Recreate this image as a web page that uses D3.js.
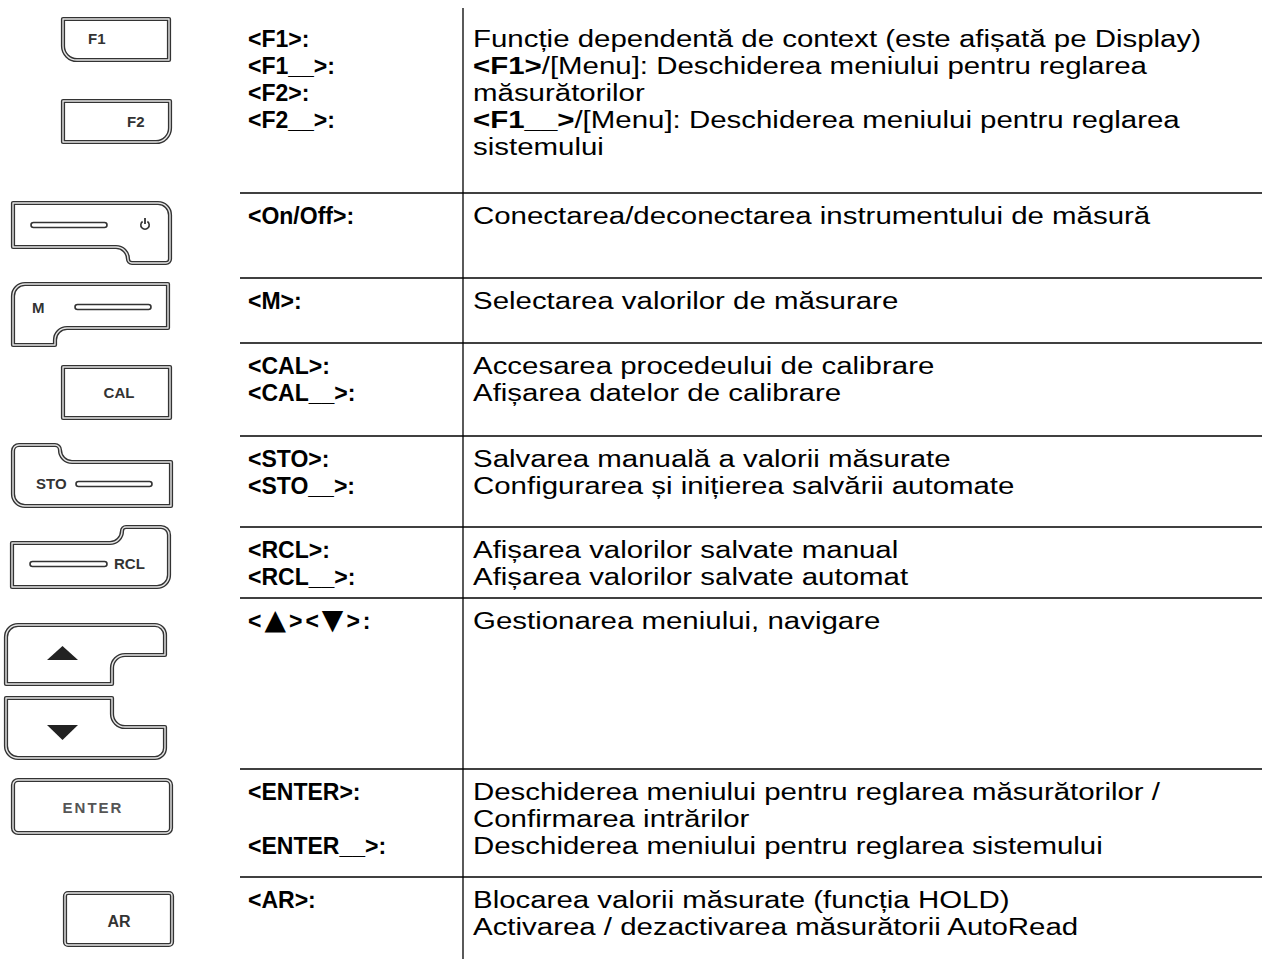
<!DOCTYPE html>
<html><head><meta charset="utf-8">
<script src="https://cdn.jsdelivr.net/npm/d3@7"></script>
<style>
html,body{margin:0;padding:0;background:#fff;}
svg{display:block;}
</style>
</head><body>
<svg id="chart" width="1262" height="959"></svg>
<script>
// ---------- data ----------
const keyNames = ["F1 / F2", "On/Off", "M", "CAL", "STO", "RCL", "Up / Down", "ENTER", "AR"];
const keyLabels = [
  ["<F1>:", "<F1__>:", "<F2>:", "<F2__>:"],
  ["<On/Off>:"],
  ["<M>:"],
  ["<CAL>:", "<CAL__>:"],
  ["<STO>:", "<STO__>:"],
  ["<RCL>:", "<RCL__>:"],
  ["<▲><▼>:"],
  ["<ENTER>:", "", "<ENTER__>:"],
  ["<AR>:"]
];
// bold parts marked with ** **
const descriptions = [
  ["Funcție dependentă de context (este afișată pe Display)",
   "**<F1>**/[Menu]: Deschiderea meniului pentru reglarea",
   "măsurătorilor",
   "**<F1__>**/[Menu]: Deschiderea meniului pentru reglarea",
   "sistemului"],
  ["Conectarea/deconectarea instrumentului de măsură"],
  ["Selectarea valorilor de măsurare"],
  ["Accesarea procedeului de calibrare", "Afișarea datelor de calibrare"],
  ["Salvarea manuală a valorii măsurate", "Configurarea și inițierea salvării automate"],
  ["Afișarea valorilor salvate manual", "Afișarea valorilor salvate automat"],
  ["Gestionarea meniului, navigare"],
  ["Deschiderea meniului pentru reglarea măsurătorilor /", "Confirmarea intrărilor", "Deschiderea meniului pentru reglarea sistemului"],
  ["Blocarea valorii măsurate (funcția HOLD)", "Activarea / dezactivarea măsurătorii AutoRead"]
];
const buttonTexts = ["F1", "F2", "", "M", "CAL", "STO", "RCL", "ENTER", "AR"];

// ---------- layout ----------
const W = 1262, H = 959;
const rowTops = [16, 193, 278, 343, 436, 527, 598, 769, 877];
const lineYs = rowTops.slice(1);
const colX = 463, tableLeft = 240;
const leftTextX = 248, rightTextX = 473;
const FSL = 23, FSR = 23, stretchR = 1.28, pitch = 27, firstOffset = 31;

const svg = d3.select("#chart");
const font = "'Liberation Sans', Arial, Helvetica, sans-serif";

const rowScale = d3.scaleOrdinal().domain(d3.range(keyNames.length)).range(rowTops);

// grid lines
svg.append("line").attr("x1", colX).attr("x2", colX).attr("y1", 8).attr("y2", H)
  .attr("stroke", "#000").attr("stroke-width", 1.3);
svg.selectAll("line.h").data(lineYs).join("line").attr("class", "h")
  .attr("x1", tableLeft).attr("x2", W).attr("y1", d => d).attr("y2", d => d)
  .attr("stroke", "#000").attr("stroke-width", 1.3);

function addRich(sel, str, baseBold) {
  const parts = str.split(/(\*\*[^*]+\*\*)/).filter(s => s.length);
  parts.forEach(p => {
    let bold = baseBold;
    let t = p;
    if (p.startsWith("**")) { bold = true; t = p.slice(2, -2); }
    sel.append("tspan").attr("font-weight", bold ? "bold" : "normal").text(t);
  });
}
function addLabel(sel, str) {
  const parts = str.split(/([▲▼])/).filter(s => s.length);
  const hasTri = parts.length > 1;
  parts.forEach(p => {
    const ts = sel.append("tspan").text(p);
    if (p === "▲" || p === "▼") ts.attr("font-family", "'DejaVu Sans', sans-serif").attr("font-size", FSL + 5);
  });
  if (hasTri) sel.attr("letter-spacing", 3);
}

// left column
keyLabels.forEach((labels, i) => {
  labels.forEach((lab, j) => {
    if (!lab) return;
    const t = svg.append("text").attr("x", leftTextX)
      .attr("y", rowScale(i) + firstOffset + j * pitch)
      .attr("font-family", font).attr("font-size", FSL).attr("font-weight", "bold")
      .attr("fill", "#000");
    addLabel(t, lab);
  });
});
// right column (wide type, as in the reference)
const rightG = svg.append("g")
  .attr("transform", `translate(${rightTextX},0) scale(${stretchR},1)`);
descriptions.forEach((lines, i) => {
  lines.forEach((ln, j) => {
    const t = rightG.append("text").attr("x", 0)
      .attr("y", rowScale(i) + firstOffset + j * pitch)
      .attr("font-family", font).attr("font-size", FSR).attr("fill", "#000");
    addRich(t, ln, false);
  });
});

// ---------- buttons ----------
const g = svg.append("g");
function drawOutline(d) {
  g.append("path").attr("d", d).attr("fill", "#fff").attr("stroke", "#333").attr("stroke-width", 4.2).attr("stroke-linejoin", "round");
  g.append("path").attr("d", d).attr("fill", "none").attr("stroke", "#e6e6e6").attr("stroke-width", 1.4).attr("stroke-linejoin", "round");
}
function rr(x0, y0, x1, y1, r) {
  const p = d3.path();
  p.moveTo(x0 + r[0], y0);
  p.lineTo(x1 - r[1], y0);
  if (r[1]) p.arcTo(x1, y0, x1, y0 + r[1], r[1]);
  p.lineTo(x1, y1 - r[2]);
  if (r[2]) p.arcTo(x1, y1, x1 - r[2], y1, r[2]);
  p.lineTo(x0 + r[3], y1);
  if (r[3]) p.arcTo(x0, y1, x0, y1 - r[3], r[3]);
  p.lineTo(x0, y0 + r[0]);
  if (r[0]) p.arcTo(x0, y0, x0 + r[0], y0, r[0]);
  p.closePath();
  return p.toString();
}
function slot(x0, x1, y) {
  g.append("rect").attr("x", x0).attr("y", y - 2.5).attr("width", x1 - x0).attr("height", 5)
    .attr("rx", 2.5).attr("fill", "#fff").attr("stroke", "#333").attr("stroke-width", 1.6);
}
function label(txt, x, y, size, anchor, fill, spacing) {
  g.append("text").attr("x", x).attr("y", y).attr("text-anchor", anchor || "start")
    .attr("font-family", font).attr("font-size", size || 15).attr("font-weight", "bold")
    .attr("letter-spacing", spacing || 0)
    .attr("fill", fill || "#333").text(txt);
}

// F1
drawOutline(rr(63, 19, 169, 60, [0, 0, 0, 14]));
label(buttonTexts[0], 88, 44);
// F2
drawOutline(rr(63, 101, 170, 142, [0, 0, 14, 0]));
label(buttonTexts[1], 127, 127);

// On/Off
(function () {
  const p = d3.path();
  p.moveTo(13, 203); p.lineTo(158, 203); p.arcTo(170, 203, 170, 215, 12);
  p.lineTo(170, 259); p.arcTo(170, 263, 166, 263, 4);
  p.lineTo(132, 263); p.arcTo(128, 263, 128, 259, 4);
  p.lineTo(128, 259); p.arcTo(128, 247, 116, 247, 12);
  p.lineTo(13, 247); p.closePath();
  drawOutline(p.toString());
  slot(31, 107, 225);
  const cx = 145, cy = 225, r = 4.2;
  const arc = d3.arc().innerRadius(r - 0.8).outerRadius(r + 0.8).startAngle(0.6).endAngle(2 * Math.PI - 0.6);
  g.append("path").attr("d", arc()).attr("transform", `translate(${cx},${cy})`).attr("fill", "#333");
  g.append("rect").attr("x", cx - 0.9).attr("y", cy - 7).attr("width", 1.8).attr("height", 6).attr("fill", "#333");
})();

// M
(function () {
  const p = d3.path();
  p.moveTo(25, 284); p.lineTo(168, 284); p.lineTo(168, 328);
  p.lineTo(67, 328); p.arcTo(55, 328, 55, 340, 12); p.lineTo(55, 345);
  p.lineTo(13, 345); p.lineTo(13, 296); p.arcTo(13, 284, 25, 284, 12); p.closePath();
  drawOutline(p.toString());
  label(buttonTexts[3], 32, 313);
  slot(75, 151, 307);
})();

// CAL
drawOutline(rr(63, 367, 170, 418, [0, 0, 0, 0]));
label(buttonTexts[4], 119, 398, 15, "middle");

// STO
(function () {
  const p = d3.path();
  p.moveTo(19, 445); p.lineTo(55, 445); p.arcTo(60, 445, 60, 450, 5);
  p.arcTo(60, 462, 72, 462, 12); p.lineTo(171, 462); p.lineTo(171, 506);
  p.lineTo(25, 506); p.arcTo(13, 506, 13, 494, 12); p.lineTo(13, 451); p.arcTo(13, 445, 19, 445, 6);
  p.closePath();
  drawOutline(p.toString());
  label(buttonTexts[5], 36, 489);
  slot(76, 152, 484);
})();

// RCL
(function () {
  const p = d3.path();
  p.moveTo(12, 543); p.lineTo(110, 543); p.arcTo(122, 543, 122, 531, 12);
  p.arcTo(122, 527, 126, 527, 4); p.lineTo(161, 527); p.arcTo(169, 527, 169, 535, 8);
  p.lineTo(169, 575); p.arcTo(169, 587, 157, 587, 12); p.lineTo(12, 587); p.closePath();
  drawOutline(p.toString());
  slot(30, 107, 564);
  label(buttonTexts[6], 114, 569);
})();

// Up
(function () {
  const p = d3.path();
  p.moveTo(18, 625); p.lineTo(155, 625); p.arcTo(165, 625, 165, 635, 10);
  p.lineTo(165, 655); p.lineTo(125, 655); p.arcTo(112, 655, 112, 668, 13);
  p.lineTo(112, 684); p.lineTo(6, 684); p.lineTo(6, 637); p.arcTo(6, 625, 18, 625, 12); p.closePath();
  drawOutline(p.toString());
  g.append("path").attr("d", d3.line()([[47, 660], [78, 660], [62.5, 646]]) + "Z").attr("fill", "#222");
})();
// Down
(function () {
  const p = d3.path();
  p.moveTo(6, 698); p.lineTo(112, 698); p.lineTo(112, 714); p.arcTo(112, 727, 125, 727, 13);
  p.lineTo(165, 727); p.lineTo(165, 748); p.arcTo(165, 758, 155, 758, 10);
  p.lineTo(18, 758); p.arcTo(6, 758, 6, 746, 12); p.closePath();
  drawOutline(p.toString());
  g.append("path").attr("d", d3.line()([[47, 725], [78, 725], [62.5, 740]]) + "Z").attr("fill", "#222");
})();

// ENTER
drawOutline(rr(13, 780, 171, 833, [5, 5, 5, 5]));
label(buttonTexts[7], 93, 813, 15, "middle", "#555", 2);
// AR
drawOutline(rr(65, 893, 172, 945, [3, 3, 3, 3]));
label(buttonTexts[8], 119, 927, 16, "middle");
</script>
</body></html>
